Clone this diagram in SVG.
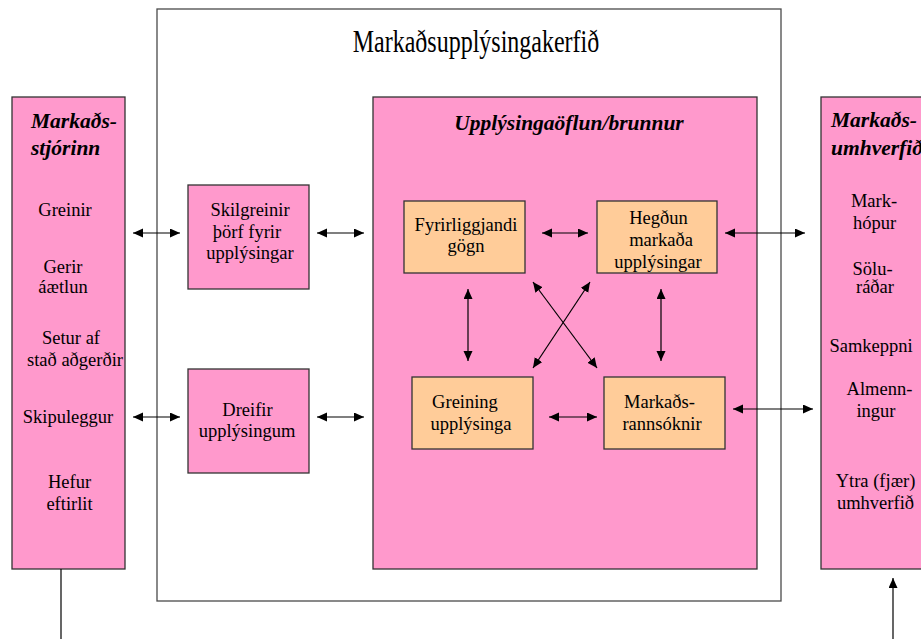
<svg xmlns="http://www.w3.org/2000/svg" width="921" height="639" viewBox="0 0 921 639">
  <style>
    .bg { fill: #ffffff; }
    .frame { fill: #ffffff; stroke: #4a4a4a; stroke-width: 1.3; }
    .pink { fill: #ff99cc; stroke: #333333; stroke-width: 1.3; }
    .orange { fill: #ffcc99; stroke: #333333; stroke-width: 1.3; }
    .t { font-size: 18.5px; text-anchor: middle; }
    .h { font-size: 21.5px; font-weight: bold; font-style: italic; }
    .title { font-size: 24px; text-anchor: middle; }
    .conn line { stroke: #000000; stroke-width: 1.2; }
    .two { marker-start: url(#head); marker-end: url(#head); }
    .one { marker-end: url(#head); }
  </style>
  <defs>
    <marker id="head" markerUnits="userSpaceOnUse" markerWidth="11" markerHeight="10" refX="10" refY="4.5" orient="auto-start-reverse">
      <path d="M0,0 L10,4.5 L0,9 z" fill="#000000"/>
    </marker>
  </defs>

  <rect class="bg" x="0" y="0" width="921" height="639"/>

  <g font-family="'Liberation Serif', Tinos, 'Times New Roman', serif" fill="#000000">
  <!-- Outer system frame -->
  <g id="system">
    <rect class="frame" x="157" y="9" width="624" height="592"/>
    <text class="title" transform="translate(476,52) scale(1,1.35)">Markaðsupplýsingakerfið</text>
  </g>

  <!-- Left panel: marketing manager -->
  <g id="manager">
    <rect class="pink" x="12" y="97" width="113" height="472"/>
    <text class="h" x="31" y="128">Markaðs-</text>
    <text class="h" x="31" y="155">stjórinn</text>
    <text class="t" x="65" y="216">Greinir</text>
    <text class="t" x="63" y="273">Gerir</text>
    <text class="t" x="63" y="293">áætlun</text>
    <text class="t" x="71" y="344">Setur af</text>
    <text class="t" x="75" y="366">stað aðgerðir</text>
    <text class="t" x="68" y="423">Skipuleggur</text>
    <text class="t" x="69.5" y="488">Hefur</text>
    <text class="t" x="69.5" y="510">eftirlit</text>
  </g>

  <!-- Right panel: marketing environment -->
  <g id="environment">
    <rect class="pink" x="821" y="97" width="110" height="472"/>
    <text class="h" x="831" y="127">Markaðs-</text>
    <text class="h" x="831" y="155">umhverfið</text>
    <text class="t" x="874" y="207">Mark-</text>
    <text class="t" x="874.5" y="229">hópur</text>
    <text class="t" x="872.5" y="275">Sölu-</text>
    <text class="t" x="875" y="293">ráðar</text>
    <text class="t" x="871" y="352">Samkeppni</text>
    <text class="t" x="879.5" y="395">Almenn-</text>
    <text class="t" x="876" y="417">ingur</text>
    <text class="t" x="875.5" y="487">Ytra (fjær)</text>
    <text class="t" x="875.5" y="509">umhverfið</text>
  </g>

  <!-- Requirements and distribution boxes -->
  <g id="define-needs">
    <rect class="pink" x="188" y="185" width="121" height="104"/>
    <text class="t" x="250" y="216">Skilgreinir</text>
    <text class="t" x="247" y="238">þörf fyrir</text>
    <text class="t" x="250" y="259">upplýsingar</text>
  </g>
  <g id="distribute">
    <rect class="pink" x="188" y="369" width="121" height="104"/>
    <text class="t" x="247.5" y="416">Dreifir</text>
    <text class="t" x="247" y="437">upplýsingum</text>
  </g>

  <!-- Information gathering / sources -->
  <g id="sources">
    <rect class="pink" x="373" y="97" width="384" height="472"/>
    <text class="h" x="569" y="130" text-anchor="middle">Upplýsingaöflun/brunnur</text>
  </g>
  <g id="existing-data">
    <rect class="orange" x="404" y="201" width="121" height="72"/>
    <text class="t" x="466" y="231">Fyrirliggjandi</text>
    <text class="t" x="466" y="252">gögn</text>
  </g>
  <g id="market-behaviour">
    <rect class="orange" x="597" y="201" width="120" height="72"/>
    <text class="t" x="658.5" y="224">Hegðun</text>
    <text class="t" x="661" y="246">markaða</text>
    <text class="t" x="658" y="268">upplýsingar</text>
  </g>
  <g id="analysis">
    <rect class="orange" x="412" y="377" width="121" height="72"/>
    <text class="t" x="465" y="408">Greining</text>
    <text class="t" x="471" y="430">upplýsinga</text>
  </g>
  <g id="research">
    <rect class="orange" x="604" y="377" width="121" height="72"/>
    <text class="t" x="659.5" y="408">Markaðs-</text>
    <text class="t" x="662" y="430">rannsóknir</text>
  </g>
  </g>

  <!-- Connectors -->
  <g id="connectors" class="conn">
    <line class="two" x1="133" y1="233" x2="180" y2="233"/>
    <line class="two" x1="133" y1="417" x2="180" y2="417"/>
    <line class="two" x1="317" y1="233" x2="364" y2="233"/>
    <line class="two" x1="317" y1="417" x2="364" y2="417"/>
    <line class="two" x1="542" y1="233" x2="588" y2="233"/>
    <line class="two" x1="725" y1="233" x2="805" y2="233"/>
    <line class="two" x1="549" y1="417" x2="597" y2="417"/>
    <line class="two" x1="733" y1="409" x2="813" y2="409"/>
    <line class="two" x1="468" y1="289" x2="468" y2="361"/>
    <line class="two" x1="661" y1="289" x2="661" y2="361"/>
    <line class="two" x1="533" y1="282" x2="597" y2="368"/>
    <line class="two" x1="590" y1="282" x2="533" y2="368"/>
    <line x1="61" y1="569" x2="61" y2="639"/>
    <line class="one" x1="893" y1="639" x2="893" y2="578"/>
  </g>
</svg>
